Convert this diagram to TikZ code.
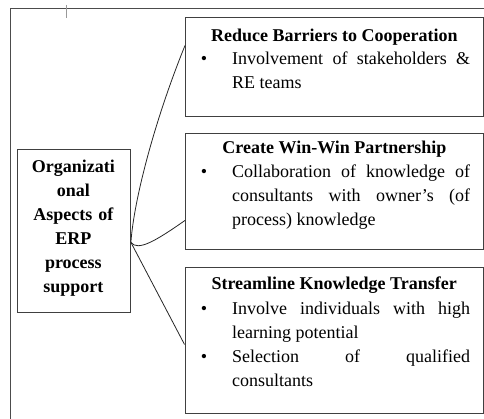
\documentclass[tikz,border=0pt]{standalone}
\usepackage{fontspec}
\setmainfont{Liberation Serif}
\usetikzlibrary{positioning}

\newcommand\bulline[1]{\makebox[31.3pt][l]{\textbullet}\parbox[t]{238pt}{\fontsize{18}{24}\selectfont #1}}

\begin{document}
\begin{tikzpicture}[x=1pt,y=1pt,
		box/.style={draw=black!75, line width=0.9pt, inner sep=0pt, anchor=north west},
		heading/.style={font=\fontsize{18}{24}\selectfont\bfseries, anchor=base, inner sep=0pt},
		bullets/.style={font=\fontsize{18}{24}\selectfont, anchor=base west, inner sep=0pt},
		link/.style={draw=black!85, line width=0.8pt}]
		\useasboundingbox (0,0) rectangle (484,419);
		
		% page frame
		\draw[black!70, line width=0.8pt] (10,-2) -- (10,411) -- (486,411);
		\draw[black!40, line width=0.6pt] (66,414) -- (66,400.7);
		
		\node[box, minimum width=113.3pt, minimum height=162.7pt] (org) at (16.7,269.7) {};
		\node[font=\fontsize{18}{24}\selectfont\bfseries, text width=113pt, align=center, anchor=base, inner sep=0pt] (orgT) at (73.4,246) {Organizati\\onal\\Aspects of\\ERP\\process\\support};
		
		\node[box, minimum width=298pt, minimum height=98.5pt] (reduce) at (185,401.5) {};
		\node[box, minimum width=298pt, minimum height=116pt] (win) at (185,286) {};
		\node[box, minimum width=298.5pt, minimum height=146pt] (transfer) at (184.5,152) {};
		
		\node[heading] (reduceT) at ([yshift=-24.2pt]reduce.north) {Reduce Barriers to Cooperation};
		\node[heading] (winT) at ([yshift=-21pt]win.north) {Create Win-Win Partnership};
		\node[heading] (transferT) at ([yshift=-23pt]transfer.north) {Streamline Knowledge Transfer};
		
		\node[bullets] (reduceA) at (200.7,354) {\bulline{Involvement of stakeholders \&\linebreak RE teams}};
		\node[bullets] (winA) at (200.7,241) {\bulline{Collaboration of knowledge of\linebreak consultants with owner’s (of\linebreak process) knowledge}};
		\node[bullets] (transferA) at (200.7,104) {\bulline{Involve individuals with high\linebreak learning potential}};
		\node[bullets] (transferB) at (200.7,56) {\bulline{Selection of qualified\linebreak consultants}};
		
		% connectors
		\coordinate (hub) at ([yshift=-11.3pt]org.east);
		\draw[link] (hub) .. controls +(3,43) and +(-30,-74) .. ([yshift=21.7pt]reduce.west);
		\draw[link] (hub) .. controls +(7,-9) and +(-30,-21) .. ([yshift=-29pt]win.west);
		\draw[link] (hub) -- ([yshift=-4pt]transfer.west);
	\end{tikzpicture}
\end{document}
